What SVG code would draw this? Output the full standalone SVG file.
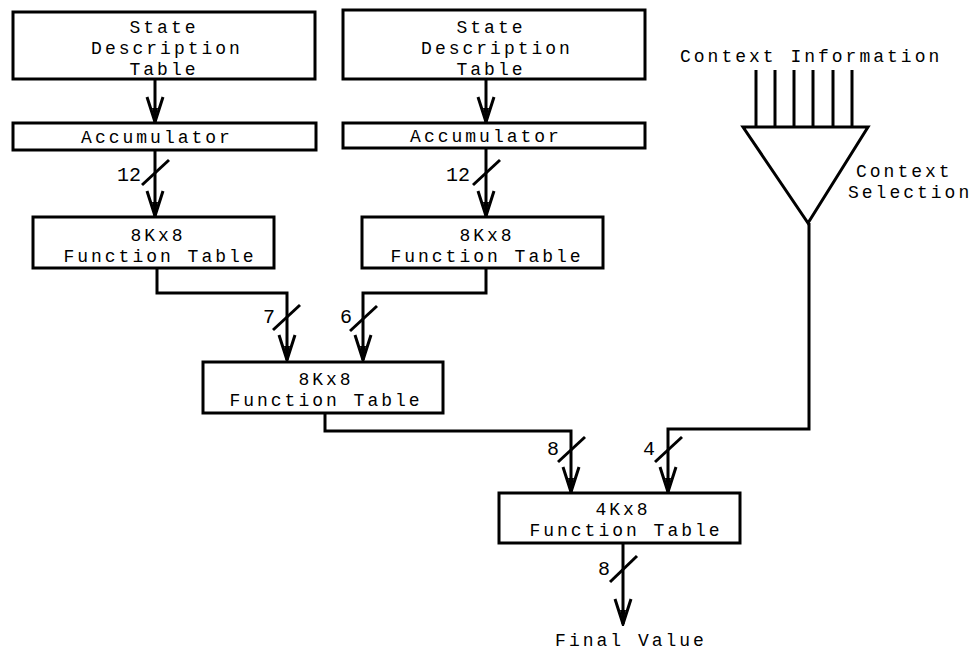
<svg xmlns="http://www.w3.org/2000/svg" width="971" height="652" viewBox="0 0 971 652">
<style>
  .box { fill: #fff; stroke: #000; stroke-width: 3; }
  .wire { fill: none; stroke: #000; stroke-width: 3; }
  .arr { marker-end: url(#ah); }
  .slash { stroke: #000; stroke-width: 3; }
  text { font-family: "Liberation Mono", "Courier New", monospace; font-size: 18px; letter-spacing: 3px; fill: #000; }
  .c { text-anchor: middle; }
  .lbl { font-size: 20px; letter-spacing: 0; text-anchor: end; }
</style>
<defs>
  <marker id="ah" markerUnits="userSpaceOnUse" viewBox="-28 -11 30 22" refX="0" refY="0" markerWidth="30" markerHeight="22" orient="auto">
    <path d="M-25,-8 L0,0 L-25,8" fill="none" stroke="#000" stroke-width="3" stroke-linejoin="miter"/>
    <path d="M-2,0 L-14,-3 L-14,3 Z" fill="#000"/>
  </marker>
</defs>
<rect width="971" height="652" fill="#fff"/>

<g id="connectors">
  <path class="wire arr" d="M155,79 V122"/>
  <path class="wire arr" d="M155,150 V216"/>
  <path class="wire arr" d="M486,79 V122"/>
  <path class="wire arr" d="M486,148 V216"/>
  <path class="wire arr" d="M157,268 V293 H287 V360"/>
  <path class="wire arr" d="M486,268 V293 H363 V360"/>
  <path class="wire arr" d="M325,413 V431 H571 V492"/>
  <path class="wire arr" d="M809,223 V429 H668 V492"/>
  <path class="wire arr" d="M623,543 V624"/>
  <g id="context-lines">
    <line class="wire" x1="756" y1="70" x2="756" y2="127"/>
    <line class="wire" x1="775" y1="70" x2="775" y2="127"/>
    <line class="wire" x1="794" y1="70" x2="794" y2="127"/>
    <line class="wire" x1="813" y1="70" x2="813" y2="127"/>
    <line class="wire" x1="833" y1="70" x2="833" y2="127"/>
    <line class="wire" x1="852" y1="70" x2="852" y2="127"/>
  </g>
  <line class="slash" x1="142" y1="185" x2="169" y2="160"/>
  <text class="lbl" x="141" y="181">12</text>
  <line class="slash" x1="473" y1="185" x2="500" y2="160"/>
  <text class="lbl" x="470" y="181">12</text>
  <line class="slash" x1="273" y1="330" x2="300" y2="305"/>
  <text class="lbl" x="275" y="323">7</text>
  <line class="slash" x1="350" y1="331" x2="377" y2="306"/>
  <text class="lbl" x="352" y="323">6</text>
  <line class="slash" x1="558" y1="462" x2="585" y2="437"/>
  <text class="lbl" x="559" y="455">8</text>
  <line class="slash" x1="655" y1="462" x2="682" y2="437"/>
  <text class="lbl" x="655" y="455">4</text>
  <line class="slash" x1="610" y1="582" x2="637" y2="556"/>
  <text class="lbl" x="610" y="575">8</text>
</g>

<g id="state1">
  <rect class="box" x="13" y="12" width="302" height="67"/>
  <text class="c" x="164" y="33">State</text>
  <text class="c" x="167" y="54">Description</text>
  <text class="c" x="164" y="75">Table</text>
</g>
<g id="acc1">
  <rect class="box" x="13" y="123" width="303" height="27"/>
  <text class="c" x="157" y="143">Accumulator</text>
</g>
<g id="ft1">
  <rect class="box" x="33" y="217" width="241" height="51"/>
  <text class="c" x="158" y="241">8Kx8</text>
  <text class="c" x="160" y="262">Function Table</text>
</g>

<g id="state2">
  <rect class="box" x="343" y="10" width="302" height="69"/>
  <text class="c" x="491" y="33">State</text>
  <text class="c" x="497" y="54">Description</text>
  <text class="c" x="491" y="75">Table</text>
</g>
<g id="acc2">
  <rect class="box" x="343" y="123" width="302" height="25"/>
  <text class="c" x="486" y="142">Accumulator</text>
</g>
<g id="ft2">
  <rect class="box" x="362" y="217" width="241" height="51"/>
  <text class="c" x="487" y="241">8Kx8</text>
  <text class="c" x="487" y="262">Function Table</text>
</g>

<g id="ft3">
  <rect class="box" x="203" y="362" width="240" height="51"/>
  <text class="c" x="326" y="385">8Kx8</text>
  <text class="c" x="326" y="406">Function Table</text>
</g>

<g id="ft4">
  <rect class="box" x="499" y="493" width="241" height="50"/>
  <text class="c" x="623" y="515">4Kx8</text>
  <text class="c" x="626" y="536">Function Table</text>
</g>

<g id="context-selection">
  <text x="680" y="62">Context Information</text>
  <polygon class="box" points="743,127 868,127 808,223"/>
  <text x="856" y="177">Context</text>
  <text x="848" y="198">Selection</text>
</g>

<g id="final-value">
  <text class="c" x="631" y="646">Final Value</text>
</g>
</svg>
